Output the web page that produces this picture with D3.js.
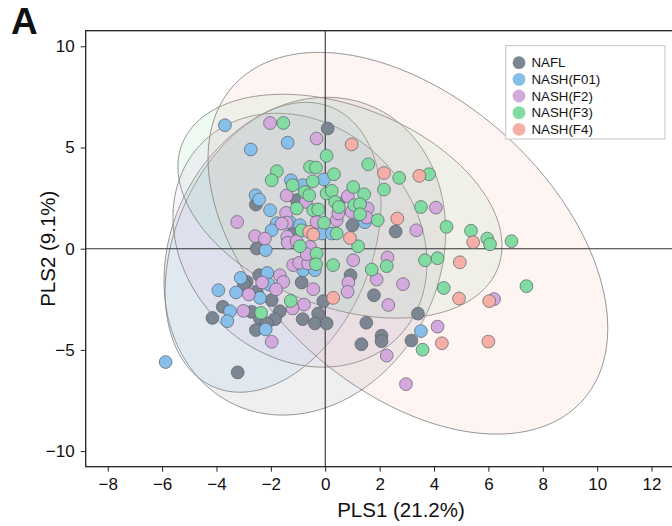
<!DOCTYPE html>
<html>
<head>
<meta charset="utf-8">
<script src="https://cdn.jsdelivr.net/npm/d3@7"></script>
<style>
  body { margin: 0; background: #fff; }
  svg text { font-family: "Liberation Sans", Arial, sans-serif; fill: #111; }
</style>
</head>
<body>
<svg class="chart" width="672" height="526"></svg>
<script>
// groups, in legend order
const groups = ['NAFL', 'NASH(F01)', 'NASH(F2)', 'NASH(F3)', 'NASH(F4)']
const colors = ['#7c8692', '#86bfea', '#d4a9de', '#80dca0', '#f5afa6']

// PLS scores [PLS1, PLS2]
const nafl = [
  [0.09, 5.94], [-2.55, 2.18], [-1.05, 2.40], [-1.18, 0.75], [-2.52, 0.01], [0.48, 2.23],
  [1.00, 1.16], [2.59, 0.85], [0.93, -1.31], [1.79, -2.30], [3.41, -3.21], [1.51, -3.66],
  [2.07, -4.30], [2.07, -4.57], [1.33, -4.72], [3.17, -4.54], [-2.43, -1.31], [-2.89, -1.64],
  [-2.99, -1.75], [-0.87, -1.67], [-2.52, -2.13], [-1.97, -2.54], [-0.07, -2.59], [-3.77, -2.87],
  [-2.71, -3.12], [-1.67, -3.09], [-2.40, -3.45], [-1.85, -3.48], [-0.26, -3.20], [-0.83, -3.48],
  [-0.38, -3.69], [0.05, -3.69], [-4.15, -3.42], [-2.55, -4.02], [-2.15, -3.68], [-3.22, -6.11],
]
const f01 = [
  [-3.69, 6.10], [-1.38, 5.24], [-2.74, 4.90], [-1.26, 3.38], [-0.83, 3.14], [-0.05, 3.42],
  [-2.56, 2.64], [-2.43, 2.43], [-2.03, 1.90], [-1.30, 1.32], [-1.78, 1.26], [-0.93, 1.16],
  [-1.97, 0.91], [-0.13, 0.75], [0.24, 0.75], [-2.19, -0.07], [1.46, 1.31], [-0.81, -1.06],
  [-0.38, -1.06], [-3.11, -1.44], [-2.13, -1.20], [-2.07, -1.77], [-3.93, -2.05], [-3.28, -2.16],
  [-2.40, -2.43], [-3.50, -3.09], [-3.60, -3.58], [-2.19, -3.99], [-5.87, -5.60], [3.52, -4.07],
]
const f2 = [
  [-2.03, 6.21], [-0.32, 5.44], [-1.42, 2.63], [-0.71, 2.31], [-1.44, 1.77], [-3.24, 1.32],
  [-1.42, 1.29], [-1.60, 1.24], [-0.32, 1.32], [-2.58, 0.62], [-2.22, 0.50], [-1.40, 0.59],
  [-1.38, 0.29], [-0.56, 0.09], [0.42, 1.41], [0.83, 2.59], [0.97, 1.82], [1.56, 1.99],
  [1.52, 1.54], [0.48, 1.74], [4.07, 2.03], [3.35, 0.91], [1.03, -0.57], [2.29, -0.43],
  [0.85, -1.67], [0.82, -2.13], [1.89, -1.52], [2.86, -1.75], [2.32, -2.78], [6.21, -2.49],
  [4.13, -3.85], [2.26, -5.28], [2.97, -6.69], [-1.18, -0.81], [-0.96, -0.70], [-0.63, -0.73],
  [-0.68, -0.27], [-1.67, -1.31], [-2.32, -1.67], [-1.54, -1.64], [-0.44, -2.00], [-1.81, -2.01],
  [-2.81, -2.26], [-0.78, -2.76], [-1.20, -2.95], [-3.01, -3.07], [-1.97, -4.60], [-1.05, 0.37],
]
const f3 = [
  [-1.54, 6.21], [0.05, 4.59], [-0.56, 4.04], [-0.34, 4.01], [0.32, 3.68], [-1.78, 3.83],
  [-1.97, 3.38], [-1.20, 3.14], [-0.46, 3.33], [-0.75, 2.80], [-0.59, 2.64], [0.05, 2.73],
  [0.24, 2.86], [0.36, 2.31], [-1.05, 1.99], [-0.44, 1.90], [-0.26, 1.94], [-0.05, 1.28],
  [-0.87, 0.91], [-0.93, 0.12], [0.42, 0.75], [-0.32, -0.24], [1.58, 4.17], [2.72, 3.50],
  [3.82, 3.68], [2.16, 2.92], [1.03, 3.05], [1.43, 2.69], [1.07, 2.15], [1.28, 2.20],
  [0.50, 2.06], [1.28, 1.70], [1.93, 1.41], [3.52, 2.06], [4.46, 1.08], [5.36, 0.89],
  [5.96, 0.50], [6.06, 0.22], [6.85, 0.37], [1.21, 0.12], [7.40, -1.85], [1.71, -1.03],
  [2.26, -0.86], [3.67, -0.57], [4.13, -0.47], [4.36, -1.94], [3.58, -4.99], [-0.34, -0.77],
  [0.29, -0.81], [-1.27, -2.58], [-2.36, -3.17],
]
const f4 = [
  [0.97, 5.15], [2.16, 3.74], [3.46, 3.60], [2.65, 1.49], [0.91, 0.53], [-0.59, 0.83],
  [-0.44, 0.70], [5.44, 0.32], [4.95, -0.67], [4.92, -2.46], [6.03, -2.59], [0.29, -2.43],
  [4.29, -4.67], [6.00, -4.59],
]
const series = [nafl, f01, f2, f3, f4]

// confidence ellipses: centre, half extents and correlation (data units)
const ellipseCx = [-0.75, -1.92, -0.93, 0.54, 3.04]
const ellipseCy = [-0.37, 0.07, 0.42, 2.10, 0.27]
const ellipseSx = [5.18, 3.97, 4.67, 5.96, 7.35]
const ellipseSy = [7.85, 7.16, 6.27, 5.53, 9.43]
const ellipseRho = [0.156, 0.306, -0.181, -0.352, -0.445]

const xTicks = [-8, -6, -4, -2, 0, 2, 4, 6, 8, 10, 12]
const yTicks = [-10, -5, 0, 5, 10]

const plotLeft = 85.7
const plotTop = 30.7
const plotBottom = 466.7
const plotRight = 676

const x = d3.scaleLinear().domain([-8.81, 12.9]).range([plotLeft, plotRight])
const y = d3.scaleLinear().domain([-10.77, 10.77]).range([plotBottom, plotTop])

const chart = d3.select('.chart')

chart.append('defs').append('clipPath').attr('id', 'plot')
  .append('rect')
  .attr('x', plotLeft).attr('y', plotTop)
  .attr('width', plotRight - plotLeft).attr('height', plotBottom - plotTop)

const plot = chart.append('g').attr('clip-path', 'url(#plot)')

const angles = d3.range(0, 2 * Math.PI + 0.001, Math.PI / 90)
const ellipsePath = (i) => {
  const k = Math.sqrt(1 - ellipseRho[i] * ellipseRho[i])
  return d3.line()
    .x(t => x(ellipseCx[i] + ellipseSx[i] * Math.cos(t)))
    .y(t => y(ellipseCy[i] + ellipseSy[i] * (ellipseRho[i] * Math.cos(t) + k * Math.sin(t))))(angles)
}

plot.append('g').attr('class', 'ellipses')
  .selectAll('path')
  .data(groups)
  .enter()
  .append('path')
  .attr('d', (g, i) => ellipsePath(i) + 'Z')
  .attr('fill', (g, i) => colors[i])
  .attr('fill-opacity', 0.13)
  .attr('stroke', '#8a8a8a')
  .attr('stroke-width', 0.9)

// zero lines
plot.append('line')
  .attr('x1', x(0)).attr('x2', x(0))
  .attr('y1', plotTop).attr('y2', plotBottom)
  .attr('stroke', '#333').attr('stroke-width', 1.1)
plot.append('line')
  .attr('x1', plotLeft).attr('x2', plotRight)
  .attr('y1', y(0)).attr('y2', y(0))
  .attr('stroke', '#333').attr('stroke-width', 1.1)

plot.append('g').attr('class', 'points')
  .selectAll('g')
  .data(series)
  .enter()
  .append('g')
  .each((points, i, nodes) => {
    d3.select(nodes[i]).selectAll('circle')
      .data(points)
      .enter()
      .append('circle')
      .attr('cx', d => x(d[0]))
      .attr('cy', d => y(d[1]))
      .attr('r', 6.4)
      .attr('fill', colors[i])
      .attr('stroke', '#5a5f66')
      .attr('stroke-width', 0.7)
  })

// frame
chart.append('rect')
  .attr('x', plotLeft).attr('y', plotTop)
  .attr('width', plotRight - plotLeft).attr('height', plotBottom - plotTop)
  .attr('fill', 'none')
  .attr('stroke', '#222')
  .attr('stroke-width', 1.3)

const xAxis = chart.append('g')
  .attr('transform', `translate(0,${plotBottom})`)
  .call(d3.axisBottom(x).tickValues(xTicks).tickSize(5).tickPadding(6))
const yAxis = chart.append('g')
  .attr('transform', `translate(${plotLeft},0)`)
  .call(d3.axisLeft(y).tickValues(yTicks).tickSize(5).tickPadding(6))

for (const axis of [xAxis, yAxis]) {
  axis.select('.domain').remove()
  axis.selectAll('line').attr('stroke', '#222').attr('stroke-width', 1)
  axis.selectAll('text')
    .attr('font-size', 17)
    .attr('font-family', '"Liberation Sans", Arial, sans-serif')
    .attr('fill', '#111')
}

chart.append('text')
  .attr('x', 401).attr('y', 516.5)
  .attr('text-anchor', 'middle')
  .attr('font-size', 20.5)
  .text('PLS1 (21.2%)')

chart.append('text')
  .attr('transform', `translate(55,${y(0)}) rotate(-90)`)
  .attr('text-anchor', 'middle')
  .attr('font-size', 20.5)
  .text('PLS2 (9.1%)')

chart.append('text')
  .attr('x', 11).attr('y', 33.5)
  .attr('font-size', 37)
  .attr('font-weight', 'bold')
  .text('A')

// legend
const legend = chart.append('g').attr('class', 'legend')
legend.append('rect')
  .attr('x', 505.7).attr('y', 45.7)
  .attr('width', 159.3).attr('height', 93.3)
  .attr('fill', '#fff')
  .attr('stroke', '#c4c4c4')
  .attr('stroke-width', 1)

const rows = legend.selectAll('g')
  .data(groups)
  .enter()
  .append('g')
  .attr('transform', (g, i) => `translate(519,${62.7 + i * 16.65})`)
rows.append('circle')
  .attr('r', 6.4)
  .attr('fill', (g, i) => colors[i])
rows.append('text')
  .attr('x', 12.5)
  .attr('dy', '0.36em')
  .attr('font-size', 13.3)
  .text(g => g)
</script>
</body>
</html>
